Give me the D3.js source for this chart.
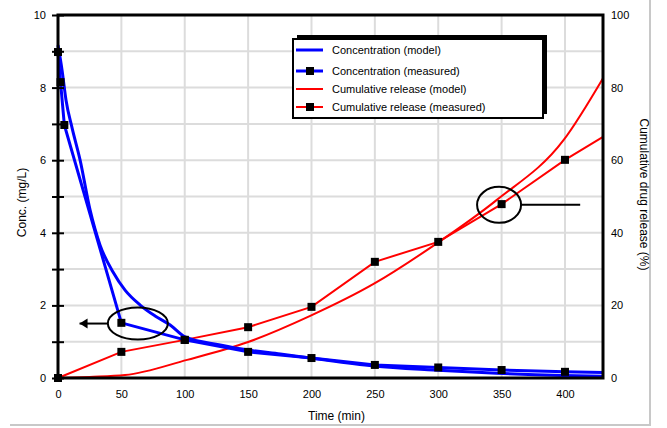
<!DOCTYPE html>
<html><head><meta charset="utf-8">
<script src="https://cdn.jsdelivr.net/npm/d3@7/dist/d3.min.js"></script>
<style>body{margin:0;background:#fff;}svg{display:block;font-family:"Liberation Sans",Arial,sans-serif;}</style>
</head><body>
<script>
// ---- data ----
const xTicks = [0,50,100,150,200,250,300,350,400];
const yLeftTicks = [0,1,2,3,4,5,6,7,8,9,10];
const yLeftLabels = [0,2,4,6,8,10];
const yRightTicks = [0,20,40,60,80,100];

const concModelX = [0,3.2,6.3,11.1,17.4,25.3,33.2,43.4,52.9,64.8,76.6,88.5,100.3,128,150,175.4,199,249,296,346,399,430];
const concModelY = [9.17,8.48,7.66,6.89,6.01,4.63,3.66,2.92,2.42,2.01,1.71,1.46,1.13,0.91,0.77,0.66,0.55,0.33,0.22,0.13,0.07,0.05];

const concMeasX = [0,2,5,50,100,150,200,250,300,350,400,430];
const concMeasY = [8.98,8.15,6.97,1.52,1.05,0.72,0.55,0.36,0.29,0.22,0.17,0.15];

const relModelX = [0,25,52.9,101.9,150,199,249,296,346,399,430];
const relModelY = [0,0.3,0.8,5.0,9.9,17.1,25.9,36.4,49.0,65.6,82.6];

const relMeasX = [0,50,100,150,200,250,300,350,400,430];
const relMeasY = [0,7.2,10.5,14.0,19.6,32.0,37.5,47.9,60.1,66.4];

const legendLabels = ["Concentration (model)","Concentration (measured)","Cumulative release (model)","Cumulative release (measured)"];
const xTitle = "Time (min)";
const yLeftTitle = "Conc. (mg/L)";
const yRightTitle = "Cumulative drug release (%)";

// ---- layout ----
const W=667,H=428;
const m={l:58,r:64,t:15,b:50};
const svg=d3.select("body").append("svg").attr("width",W).attr("height",H);
const x=d3.scaleLinear().domain([0,430]).range([m.l,W-m.r]);
const yL=d3.scaleLinear().domain([0,10]).range([H-m.b,m.t]);
const yR=d3.scaleLinear().domain([0,100]).range([H-m.b,m.t]);

// outer light frame
svg.append("line").attr("x1",650).attr("x2",650).attr("y1",0).attr("y2",425).attr("stroke","#c8c8c8").attr("stroke-width",2);
svg.append("line").attr("x1",10).attr("x2",651).attr("y1",425).attr("y2",425).attr("stroke","#c8c8c8").attr("stroke-width",2);

// grid
const g=svg.append("g");
g.selectAll(".vg").data(xTicks.slice(1)).join("line")
 .attr("x1",d=>x(d)).attr("x2",d=>x(d)).attr("y1",m.t).attr("y2",H-m.b)
 .attr("stroke","#dcdcdc").attr("stroke-width",2);
g.selectAll(".hg").data(yLeftTicks.slice(1,-1)).join("line")
 .attr("x1",m.l).attr("x2",W-m.r).attr("y1",d=>yL(d)).attr("y2",d=>yL(d))
 .attr("stroke","#dcdcdc").attr("stroke-width",2);

// lines
const lineGen=(xs,ys,ys_scale,curve)=>d3.line().x((d,i)=>x(xs[i])).y(d=>ys_scale(d)).curve(curve)(ys);
svg.append("path").attr("d",lineGen(relModelX,relModelY,yR,d3.curveMonotoneX)).attr("fill","none").attr("stroke","#ff0000").attr("stroke-width",2);
svg.append("path").attr("d",lineGen(relMeasX,relMeasY,yR,d3.curveLinear)).attr("fill","none").attr("stroke","#ff0000").attr("stroke-width",2);
svg.append("path").attr("d",lineGen(concModelX,concModelY,yL,d3.curveMonotoneX)).attr("fill","none").attr("stroke","#0000ff").attr("stroke-width",3);
svg.append("path").attr("d",lineGen(concMeasX,concMeasY,yL,d3.curveLinear)).attr("fill","none").attr("stroke","#0000ff").attr("stroke-width",3);

// markers
const ms=8;
svg.selectAll(".mb").data(concMeasY.slice(0,-1)).join("rect")
 .attr("x",(d,i)=>x(concMeasX[i])-ms/2).attr("y",d=>yL(d)-ms/2).attr("width",ms).attr("height",ms).attr("fill","#000");
svg.selectAll(".mr").data(relMeasY.slice(0,-1)).join("rect")
 .attr("x",(d,i)=>x(relMeasX[i])-ms/2).attr("y",d=>yR(d)-ms/2).attr("width",ms).attr("height",ms).attr("fill","#000");

// annotations
svg.append("ellipse").attr("cx",x(63)).attr("cy",yL(1.5)).attr("rx",30).attr("ry",16).attr("fill","none").attr("stroke","#000").attr("stroke-width",2);
svg.append("line").attr("x1",x(63)-30).attr("x2",x(17)).attr("y1",yL(1.5)).attr("y2",yL(1.5)).attr("stroke","#000").attr("stroke-width",2);
svg.append("path").attr("d",`M${x(17)},${yL(1.5)} l8,-5 l0,10 z`).attr("fill","#000");
svg.append("ellipse").attr("cx",x(348)).attr("cy",yR(47.7)).attr("rx",22).attr("ry",18).attr("fill","none").attr("stroke","#000").attr("stroke-width",2);
svg.append("line").attr("x1",x(348)+22).attr("x2",x(412)).attr("y1",yR(47.7)).attr("y2",yR(47.7)).attr("stroke","#000").attr("stroke-width",2);

// frame
svg.append("rect").attr("x",m.l).attr("y",m.t).attr("width",W-m.r-m.l).attr("height",H-m.b-m.t).attr("fill","none").attr("stroke","#000").attr("stroke-width",3);

// axes
const ax=svg.append("g").attr("transform",`translate(0,${H-m.b})`)
 .call(d3.axisBottom(x).tickValues(xTicks).tickSize(0).tickPadding(12));
ax.select(".domain").remove();
ax.selectAll("text").attr("font-size",11).attr("fill","#000").style("font-family","Liberation Sans, Arial, sans-serif");

const al=svg.append("g").attr("transform",`translate(${m.l},0)`)
 .call(d3.axisLeft(yL).tickValues(yLeftTicks).tickSize(6).tickPadding(6).tickFormat(d=>yLeftLabels.includes(d)?d:""));
al.select(".domain").remove();
al.selectAll("line").attr("stroke","#000").attr("stroke-width",2).attr("x2",-6).attr("x1",6);
al.selectAll("text").attr("font-size",11).attr("fill","#000").style("font-family","Liberation Sans, Arial, sans-serif");

const ar=svg.append("g").attr("transform",`translate(${W-m.r},0)`)
 .call(d3.axisRight(yR).tickValues(yRightTicks).tickSize(0).tickPadding(8));
ar.select(".domain").remove();
ar.selectAll("text").attr("font-size",11).attr("fill","#000").style("font-family","Liberation Sans, Arial, sans-serif");

// titles
svg.append("text").attr("x",(m.l+W-m.r)/2+6).attr("y",420).attr("text-anchor","middle").attr("font-size",12).text(xTitle);
svg.append("text").attr("transform",`translate(26,${(m.t+H-m.b)/2+6}) rotate(-90)`).attr("text-anchor","middle").attr("font-size",12).text(yLeftTitle);
svg.append("text").attr("transform",`translate(640,${(m.t+H-m.b)/2-2}) rotate(90)`).attr("text-anchor","middle").attr("font-size",12).text(yRightTitle);

// legend
const lg=svg.append("g");
lg.append("rect").attr("x",297).attr("y",35).attr("width",250).attr("height",79).attr("fill","#000");
lg.append("rect").attr("x",293).attr("y",39).attr("width",250).attr("height",79).attr("fill","#fff").attr("stroke","#000").attr("stroke-width",2);
const rowsY=[50,71,89,107];
const cols=["#0000ff","#0000ff","#ff0000","#ff0000"];
legendLabels.forEach((t,i)=>{
  lg.append("line").attr("x1",296).attr("x2",323).attr("y1",rowsY[i]).attr("y2",rowsY[i]).attr("stroke",cols[i]).attr("stroke-width",i<2?3:2);
  if(i%2==1) lg.append("rect").attr("x",306).attr("y",rowsY[i]-4).attr("width",8).attr("height",8).attr("fill","#000");
  lg.append("text").attr("x",332).attr("y",rowsY[i]+4).attr("font-size",11).text(t);
});
</script>
</body></html>
